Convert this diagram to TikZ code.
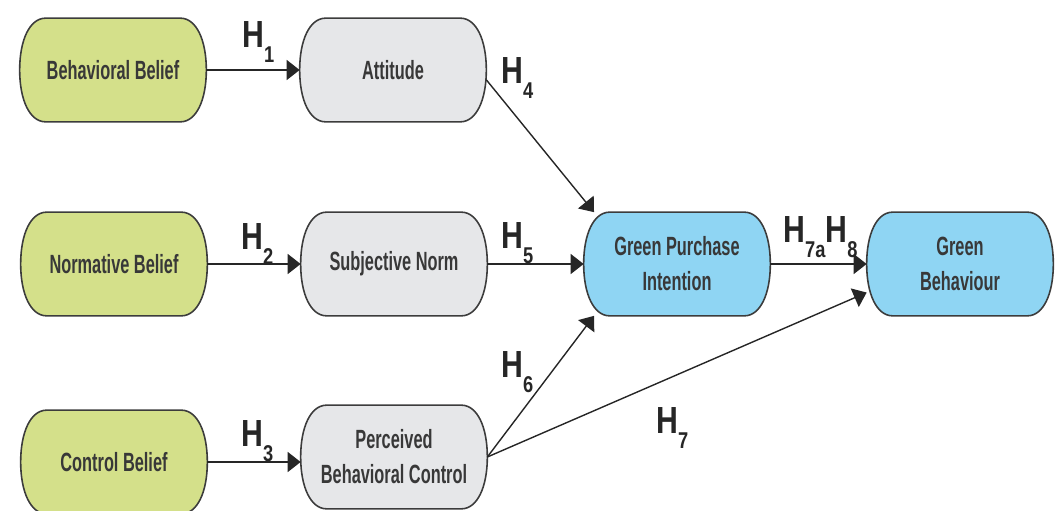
\documentclass[tikz,border=0pt]{standalone}
\usepackage{fontspec}
\setmainfont{Liberation Sans}
\newfontfamily\boxfont{Liberation Sans}[FakeStretch=0.62]
\newfontfamily\hypfont{Liberation Sans}[FakeStretch=0.8]
\usetikzlibrary{arrows.meta,calc,backgrounds}

\definecolor{beliefgreen}{RGB}{212,224,138}
\definecolor{constgray}{RGB}{230,231,233}
\definecolor{gpiblue}{RGB}{143,213,243}
\definecolor{edgegray}{RGB}{60,60,60}

% hypothesis label with a low subscript
\newcommand{\hsub}[1]{H\raisebox{-0.3cm}{\fontsize{13}{13}\selectfont #1}}

% capsule outline round a box node
\newcommand{\capsule}[2]{%
  \draw[draw=edgegray, line width=0.9pt, fill=#2]
    ($(#1.north west)+(26,0)$) -- ($(#1.north east)+(-26,0)$)
    .. controls ($(#1.north east)+(-10,0)$) and ($(#1.east)+(0,-30)$) .. (#1.east)
    .. controls ($(#1.east)+(0,30)$) and ($(#1.south east)+(-10,0)$) .. ($(#1.south east)+(-26,0)$)
    -- ($(#1.south west)+(26,0)$)
    .. controls ($(#1.south west)+(10,0)$) and ($(#1.west)+(0,30)$) .. (#1.west)
    .. controls ($(#1.west)+(0,-30)$) and ($(#1.north west)+(10,0)$) .. cycle;}

\tikzset{
  box/.style={rectangle, inner sep=0pt,
    minimum width=3.72cm, minimum height=2.06cm, align=center,
    text=black!78, font=\boxfont\bfseries\fontsize{15}{20}\selectfont},
  path/.style={draw=black!85, line width=0.8pt,
    -{Triangle[length=0.26cm,width=0.4cm]}},
  hyp/.style={anchor=base west, inner sep=0pt, text=black!85,
    font=\hypfont\bfseries\fontsize{21.5}{22}\selectfont}
}

\begin{document}
\begin{tikzpicture}[x=0.02cm, y=-0.02cm]

\useasboundingbox (0, 0) rectangle (1056, 511); % image size

% beliefs
\node[box] (bb) at (113, 70) {Behavioral Belief};
\node[box] (nb) at (114, 264) {Normative Belief};
\node[box] (cb) at (114, 462) {Control Belief};

% tpb constructs
\node[box] (att) at (393, 70) {Attitude};
\node[box] (sn) at (394, 264) {Subjective Norm};
\node[box] (pbc) at (394, 457) {Perceived\\Behavioral Control};

% outcomes
\node[box] (gpi) at (677, 264) {Green Purchase\\Intention};
\node[box] (gb) at (960, 264) {Green\\Behaviour};

% outlines
\begin{scope}[on background layer]
  \capsule{bb}{beliefgreen}
  \capsule{nb}{beliefgreen}
  \capsule{cb}{beliefgreen}
  \capsule{att}{constgray}
  \capsule{sn}{constgray}
  \capsule{pbc}{constgray}
  \capsule{gpi}{gpiblue}
  \capsule{gb}{gpiblue}
\end{scope}

% hypotheses
\draw[path] (bb) -- (att);
\draw[path] (nb) -- (sn);
\draw[path] (cb.east) -- (pbc.west |- cb.east);
\draw[path] (att.-6) -- (gpi.148);
\draw[path] (sn) -- (gpi);
\draw[path] (pbc.east) -- (gpi.212);
\draw[path] (gpi) -- (gb);
\draw[path] (pbc.east) -- (gb.197);

% labels
\node[hyp] (h1) at (242, 47) {\hsub{1}};
\node[hyp] (h2) at (241, 249) {\hsub{2}};
\node[hyp] (h3) at (241, 446) {\hsub{3}};
\node[hyp] (h4) at (501, 83) {\hsub{4}};
\node[hyp] (h5) at (501, 248) {\hsub{5}};
\node[hyp] (h6) at (501, 377) {\hsub{6}};
\node[hyp] (h7) at (656, 433) {\hsub{7}};
\node[hyp] (h78) at (783, 242) {\hsub{7a}\hsub{8}};

\end{tikzpicture}
\end{document}
